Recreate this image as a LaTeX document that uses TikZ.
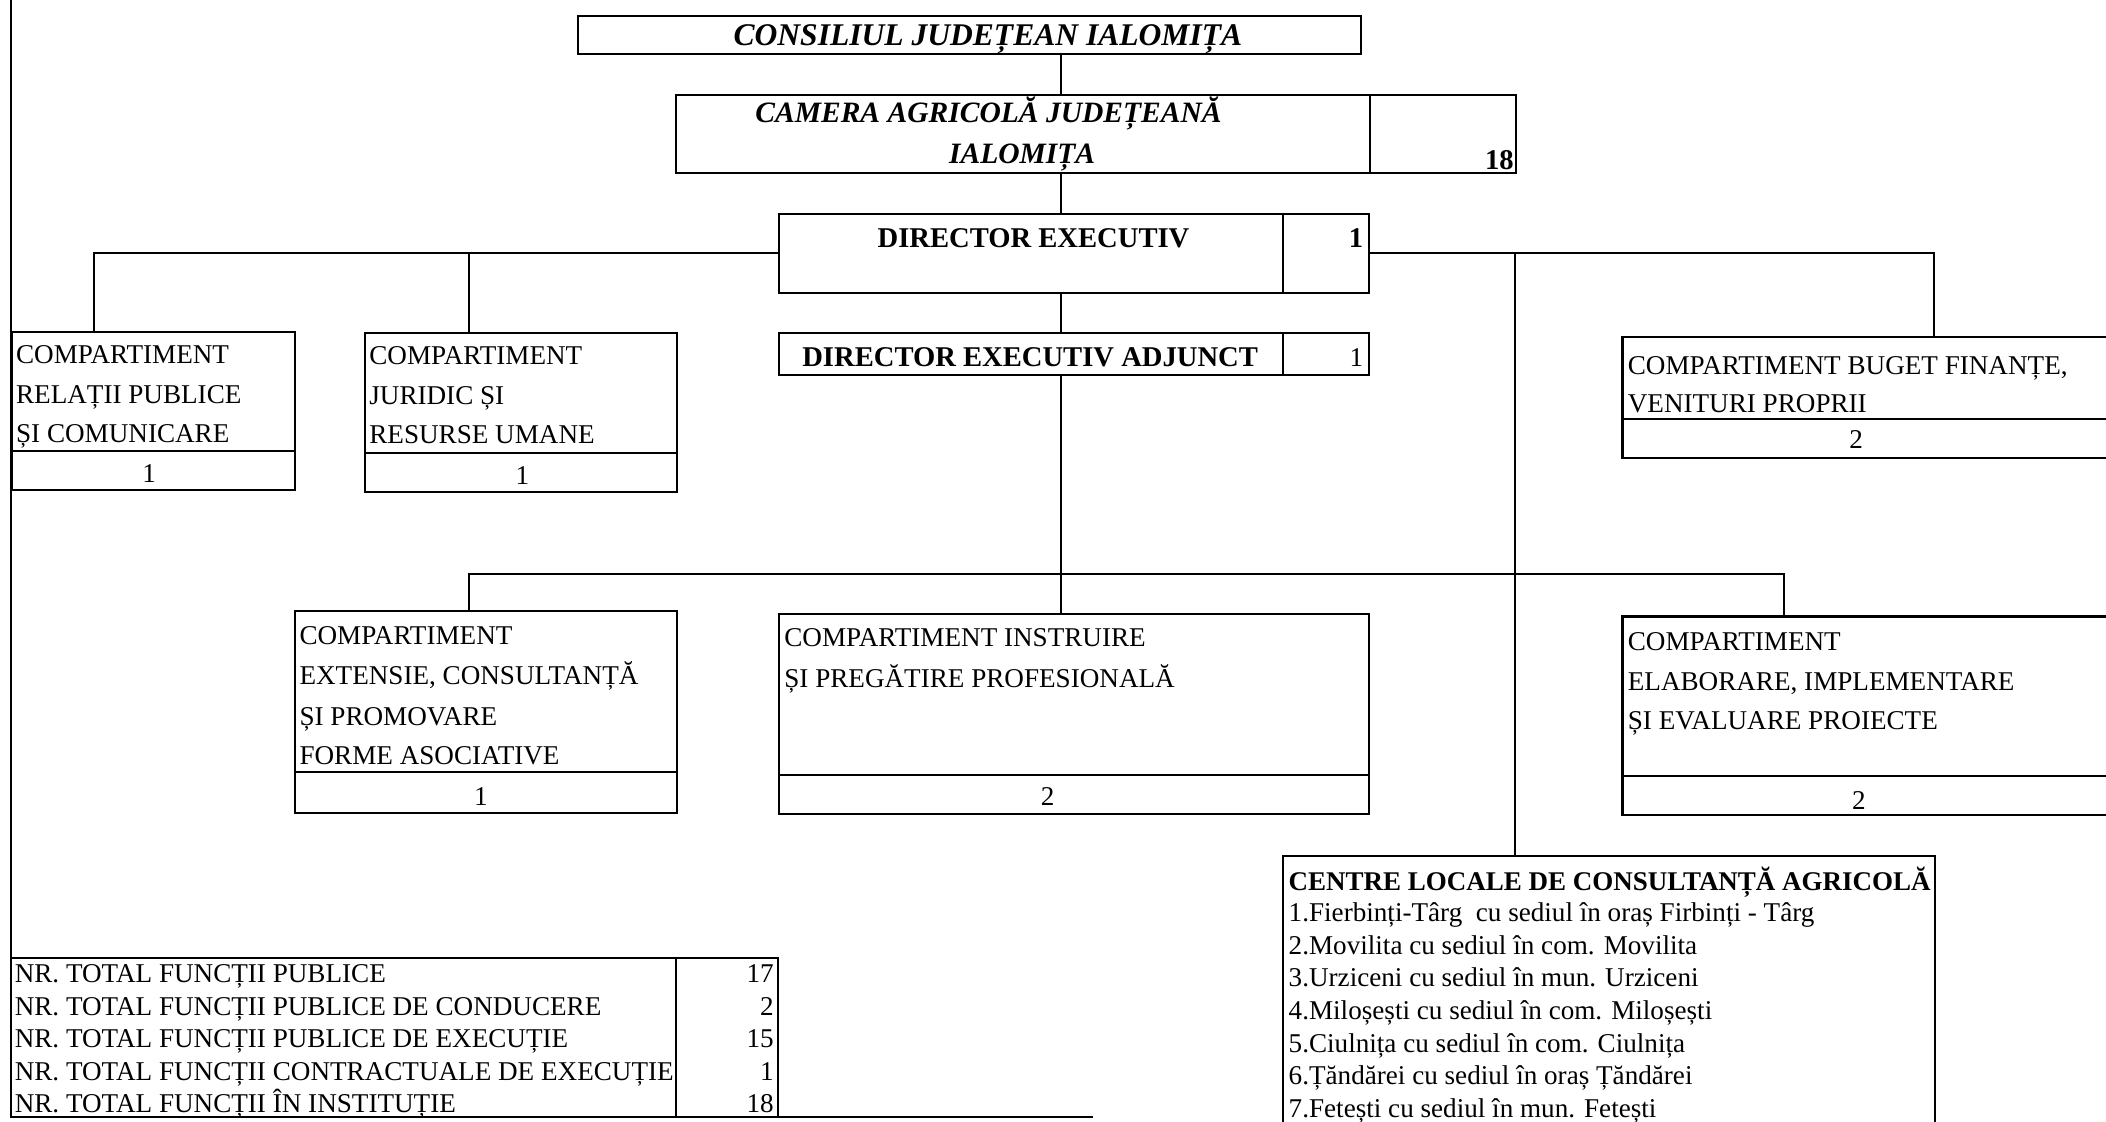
\documentclass[tikz,border=0pt]{standalone}
\usepackage{fontspec}
\setmainfont{Liberation Serif}
\newcommand\OrgCell[5]{\node[cellbox, minimum width={(#4)-(#2)}, minimum height={(#5)-(#3)}] (#1) at ({((#2)+(#4))/2},{((#3)+(#5))/2}) {};}
\begin{document}
\begin{tikzpicture}[x=1pt,y=-1pt,
  cellbox/.style={draw, line width=1.5pt, inner sep=0pt, outer sep=0pt, rectangle},
  lbl/.style={inner sep=0pt, outer sep=0pt, font=\fontsize{20.2}{24}\selectfont},
  blbl/.style={inner sep=0pt, outer sep=0pt, font=\fontsize{21.3}{24}\selectfont\bfseries},
  bilbl/.style={inner sep=0pt, outer sep=0pt, font=\fontsize{22}{24}\selectfont\bfseries\itshape},
  conn/.style={line width=1.5pt},
]
\useasboundingbox (0,0) rectangle (1568,835);
\clip (0,0) rectangle (1568,835);

% ---------- boxes ----------
\OrgCell{cons}{430}{12}{1013}{40}
\OrgCell{cam}{503}{71}{1020}{129}
\OrgCell{camN}{1020}{71}{1129}{129}
\OrgCell{dir}{580}{159}{955}{218}
\OrgCell{dirN}{955}{159}{1019}{218}
\OrgCell{adj}{580}{248}{955}{279}
\OrgCell{adjN}{955}{248}{1019}{279}
\OrgCell{rel}{9}{247}{220}{336}
\OrgCell{relN}{9}{336}{220}{365}
\OrgCell{jur}{272}{248}{504}{337}
\OrgCell{jurN}{272}{337}{504}{366}
\OrgCell{bug}{1208}{251}{1600}{312}
\OrgCell{bugN}{1208}{312}{1600}{341}
\OrgCell{ext}{220}{455}{504}{575}
\OrgCell{extN}{220}{575}{504}{605}
\OrgCell{ins}{580}{457}{1019}{577}
\OrgCell{insN}{580}{577}{1019}{606}
\OrgCell{ela}{1208}{459}{1600}{578}
\OrgCell{elaN}{1208}{578}{1600}{607}
\OrgCell{cen}{955}{637}{1441}{880}
\OrgCell{tabL}{8}{713}{503}{832}
\OrgCell{tabR}{503}{713}{579}{832}

% ---------- helper coordinates ----------
\coordinate (spine) at (790,0);
\coordinate (relx) at (70,0);
\coordinate (jurx) at (349,0);
\coordinate (cenx) at (1128,0);
\coordinate (bugx) at (1440,0);
\coordinate (elax) at (1328,0);
\coordinate (bus) at (0,427);
\coordinate (frameTop) at (8,0);
\coordinate (bottomEnd) at (814,0);

% ---------- connectors ----------
\draw[conn] (cons.south -| spine) -- (cam.north -| spine);
\draw[conn] (cam.south -| spine) -- (dir.north -| spine);
\draw[conn] (dir.south -| spine) -- (adj.north -| spine);
\draw[conn] (adj.south -| spine) -- (ins.north -| spine);
\draw[conn] (dir.west) -- (dir.west -| relx) -- (rel.north -| relx);
\draw[conn] (dir.west -| jurx) -- (jur.north -| jurx);
\draw[conn] (dirN.east) -- (dirN.east -| bugx) -- (bug.north -| bugx);
\draw[conn] (dirN.east -| cenx) -- (cen.north -| cenx);
\draw[conn] (ext.north -| jurx) -- (bus -| jurx) -- (bus -| elax) -- (ela.north -| elax);
\draw[conn] (frameTop) -- (tabL.north west);
\draw[conn] (tabR.south east) -- (tabR.south east -| bottomEnd);

% ---------- texts ----------
\node[bilbl, font=\fontsize{23.5}{26}\selectfont\bfseries\itshape, anchor=base] (consT) at (735.5,34) {CONSILIUL JUDEȚEAN IALOMIȚA};
\node[bilbl, anchor=base] (camT1) at (736,91.5) {CAMERA AGRICOLĂ JUDEȚEANĂ};
\node[bilbl, anchor=base] (camT2) at (761,122) {IALOMIȚA};
\node[blbl, anchor=base east] (camNT) at (1127,126) {18};

\node[blbl, anchor=base] (dirT) at (769.5,184) {DIRECTOR EXECUTIV};
\node[blbl, anchor=base east] (dirNT) at (1015,184) {1};
\node[blbl, anchor=base] (adjT) at (767,272.5) {DIRECTOR EXECUTIV ADJUNCT};
\node[lbl, anchor=base east] (adjNT) at (1015,272.5) {1};

\node[lbl, anchor=base west] (relT1) at (12,270.6) {COMPARTIMENT};
\node[lbl, anchor=base west] (relT2) at (12,300.3) {RELAȚII PUBLICE};
\node[lbl, anchor=base west] (relT3) at (12,329.8) {ȘI COMUNICARE};
\node[lbl, anchor=base] (relNT) at (111,359.6) {1};

\node[lbl, anchor=base west] (jurT1) at (275,271.2) {COMPARTIMENT};
\node[lbl, anchor=base west] (jurT2) at (275,301) {JURIDIC ȘI};
\node[lbl, anchor=base west] (jurT3) at (275,330.5) {RESURSE UMANE};
\node[lbl, anchor=base] (jurNT) at (389,360.5) {1};

\node[lbl, anchor=base west] (bugT1) at (1212,278.5) {COMPARTIMENT BUGET FINANȚE,};
\node[lbl, anchor=base west] (bugT2) at (1212,307) {VENITURI PROPRII};
\node[lbl, anchor=base] (bugNT) at (1382,333.6) {2};

\node[lbl, anchor=base west] (extT1) at (223,479.5) {COMPARTIMENT};
\node[lbl, anchor=base west] (extT2) at (223,510) {EXTENSIE, CONSULTANȚĂ};
\node[lbl, anchor=base west] (extT3) at (223,540.5) {ȘI PROMOVARE};
\node[lbl, anchor=base west] (extT4) at (223,569) {FORME ASOCIATIVE};
\node[lbl, anchor=base] (extNT) at (358,600) {1};

\node[lbl, anchor=base west] (insT1) at (584,481) {COMPARTIMENT INSTRUIRE};
\node[lbl, anchor=base west] (insT2) at (584,511.5) {ȘI PREGĂTIRE PROFESIONALĂ};
\node[lbl, anchor=base] (insNT) at (780,599.5) {2};

\node[lbl, anchor=base west] (elaT1) at (1212,484) {COMPARTIMENT};
\node[lbl, anchor=base west] (elaT2) at (1212,514) {ELABORARE, IMPLEMENTARE};
\node[lbl, anchor=base west] (elaT3) at (1212,543) {ȘI EVALUARE PROIECTE};
\node[lbl, anchor=base] (elaNT) at (1384,602.5) {2};

\node[blbl, font=\fontsize{20.1}{24}\selectfont\bfseries, anchor=base west] (cenH) at (959.5,663) {CENTRE LOCALE DE CONSULTANȚĂ AGRICOLĂ};
\node[lbl, anchor=base west] (cen1) at (959.5,686.2) {1.Fierbinți-Târg\ \ cu sediul în oraș Firbinți - Târg};
\node[lbl, anchor=base west] (cen2) at (959.5,710.5) {2.Movilita cu sediul în com. Movilita};
\node[lbl, anchor=base west] (cen3) at (959.5,734.8) {3.Urziceni cu sediul în mun. Urziceni};
\node[lbl, anchor=base west] (cen4) at (959.5,759.1) {4.Miloșești cu sediul în com. Miloșești};
\node[lbl, anchor=base west] (cen5) at (959.5,783.4) {5.Ciulnița cu sediul în com. Ciulnița};
\node[lbl, anchor=base west] (cen6) at (959.5,807.7) {6.Țăndărei cu sediul în oraș Țăndărei};
\node[lbl, anchor=base west] (cen7) at (959.5,832) {7.Fetești cu sediul în mun. Fetești};

\node[lbl, anchor=base west] (tab1) at (11,731.5) {NR. TOTAL FUNCȚII PUBLICE};
\node[lbl, anchor=base west] (tab2) at (11,755.7) {NR. TOTAL FUNCȚII PUBLICE DE CONDUCERE};
\node[lbl, anchor=base west] (tab3) at (11,779.9) {NR. TOTAL FUNCȚII PUBLICE DE EXECUȚIE};
\node[lbl, anchor=base west] (tab4) at (11,804.1) {NR. TOTAL FUNCȚII CONTRACTUALE DE EXECUȚIE};
\node[lbl, anchor=base west] (tab5) at (11,828.3) {NR. TOTAL FUNCȚII ÎN INSTITUȚIE};
\node[lbl, anchor=base east] (tabN1) at (576,731.5) {17};
\node[lbl, anchor=base east] (tabN2) at (576,755.7) {2};
\node[lbl, anchor=base east] (tabN3) at (576,779.9) {15};
\node[lbl, anchor=base east] (tabN4) at (576,804.1) {1};
\node[lbl, anchor=base east] (tabN5) at (576,828.3) {18};
\end{tikzpicture}
\end{document}
